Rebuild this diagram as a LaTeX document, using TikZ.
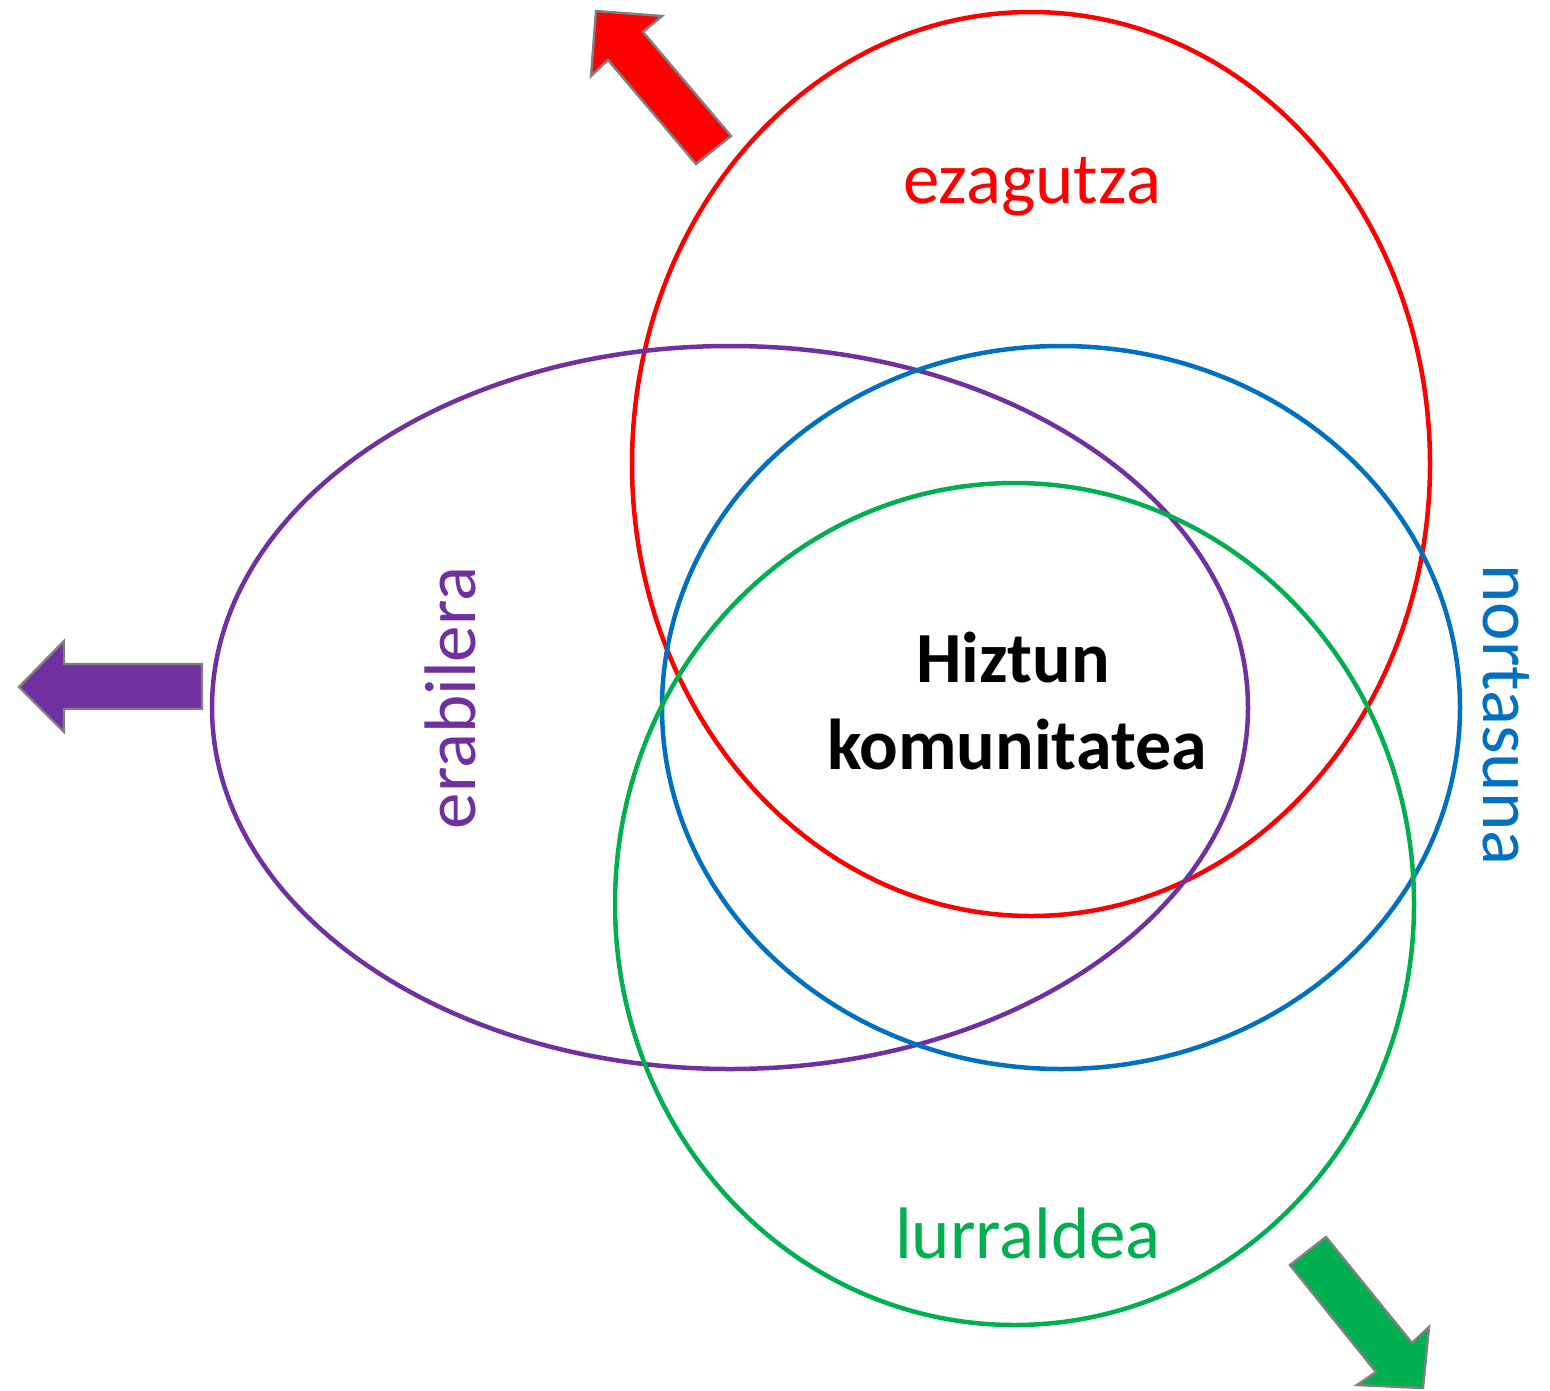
\documentclass[tikz,border=0pt]{standalone}
\usepackage{fontspec}
\setmainfont{Carlito}
\usetikzlibrary{shapes.geometric}
\definecolor{cRed}{HTML}{FF0000}
\definecolor{cPurple}{HTML}{7030A0}
\definecolor{cBlue}{HTML}{0070C0}
\definecolor{cGreen}{HTML}{00B050}
\definecolor{cEdge}{HTML}{808080}
\begin{document}
\begin{tikzpicture}[x=1pt,y=-1pt,
  ring/.style={ellipse,draw,line width=4.5pt,inner sep=0pt,fill=none},
  blockarrow/.style={draw=cEdge,line width=2.4pt,line join=miter},
  lbl/.style={font=\fontsize{73}{87}\selectfont,inner sep=0pt,anchor=base},
  core/.style={font=\fontsize{72}{87}\selectfont\bfseries,inner sep=0pt,align=center}]
\useasboundingbox (0,0) rectangle (1550,1390);
% ellipses
\node[ring,draw=cRed,minimum width=798pt,minimum height=904pt] (ez) at (1031,464) {};
\node[ring,draw=cPurple,minimum width=1036pt,minimum height=723pt] (er) at (730,707.5) {};
\node[ring,draw=cBlue,minimum width=798pt,minimum height=723pt] (no) at (1061,707.5) {};
\node[ring,draw=cGreen,minimum width=799pt,minimum height=842pt] (lu) at (1014.5,904) {};
% labels
\node[lbl,text=cRed] (tez) at (1032,203) {ezagutza};
\node[lbl,text=cGreen] (tlu) at (1028,1258) {lurraldea};
\node[lbl,text=cPurple,rotate=90] (ter) at (475,698) {erabilera};
\node[lbl,text=cBlue,rotate=-90] (tno) at (1483,715) {nortasuna};
\node[core,anchor=base] (h1) at (1013,682) {Hiztun};
\node[core,anchor=base] (h2) at (1017,769) {komunitatea};
% block arrows
\filldraw[blockarrow,fill=cRed] (596,11) -- (662,16) -- (643,32) -- (731,136) -- (696,164) -- (608,60) -- (591,76) -- cycle;
\filldraw[blockarrow,fill=cPurple] (19,687) -- (64,641) -- (64,664) -- (202,664) -- (202,709) -- (64,709) -- (64,732) -- cycle;
\filldraw[blockarrow,fill=cGreen] (1290,1265) -- (1326,1237) -- (1412,1343) -- (1429,1327) -- (1423,1388) -- (1357,1385) -- (1376,1372) -- cycle;
\end{tikzpicture}
\end{document}
